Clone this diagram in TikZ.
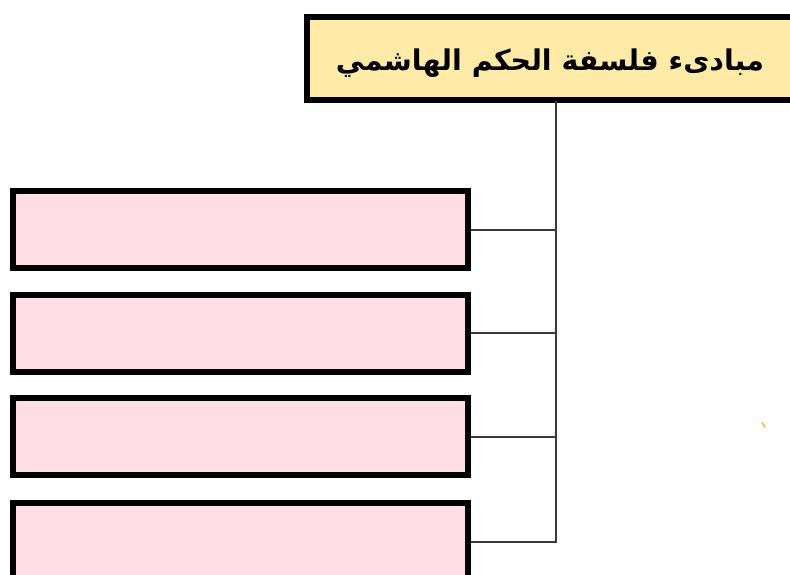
\documentclass[tikz,border=0pt]{standalone}
\usepackage{fontspec}
\newfontfamily\arabicfont[Script=Arabic]{DejaVu Sans}
\TeXXeTstate=1
\definecolor{titlefill}{HTML}{FFEAA8}
\definecolor{pinkfill}{HTML}{FFDDE7}
\definecolor{linkgray}{HTML}{3A3A36}
\definecolor{speck}{HTML}{F5C84A}
\tikzset{
  titlebox/.style={draw=black, line width=6pt, fill=titlefill, rectangle,
    minimum width=488pt, minimum height=83pt, inner sep=0pt},
  pinkbox/.style={draw=black, line width=6pt, fill=pinkfill, rectangle,
    minimum width=455pt, minimum height=77pt, inner sep=0pt},
  link/.style={draw=linkgray, line width=2pt}
}
\begin{document}
\begin{tikzpicture}[x=1pt,y=-1pt]
\useasboundingbox (0,0) rectangle (790,575);
\clip (0,0) rectangle (790,575);
\fill[white] (0,0) rectangle (790,575);
\node[titlebox] (title) at (551,58.5) {};
\node at (550,63) (titletext) {\arabicfont\bfseries\fontsize{28.5pt}{32pt}\selectfont\beginR مبادىء فلسفة الحكم الهاشمي\endR};
\node[pinkbox] (b1) at (240.5,229.5) {};
\node[pinkbox] (b2) at (240.5,333) {};
\node[pinkbox] (b3) at (240.5,436.5) {};
\node[pinkbox] (b4) at (240.5,541.5) {};
\coordinate (t) at (556,101);
\draw[link] (t) -- (t |- b4.east) -- (b4.east);
\draw[link] (b1.east) -- (b1.east -| t);
\draw[link] (b2.east) -- (b2.east -| t);
\draw[link] (b3.east) -- (b3.east -| t);
\draw[speck, line width=2pt, line cap=round] (762,423) -- (765,427);
\end{tikzpicture}
\end{document}
